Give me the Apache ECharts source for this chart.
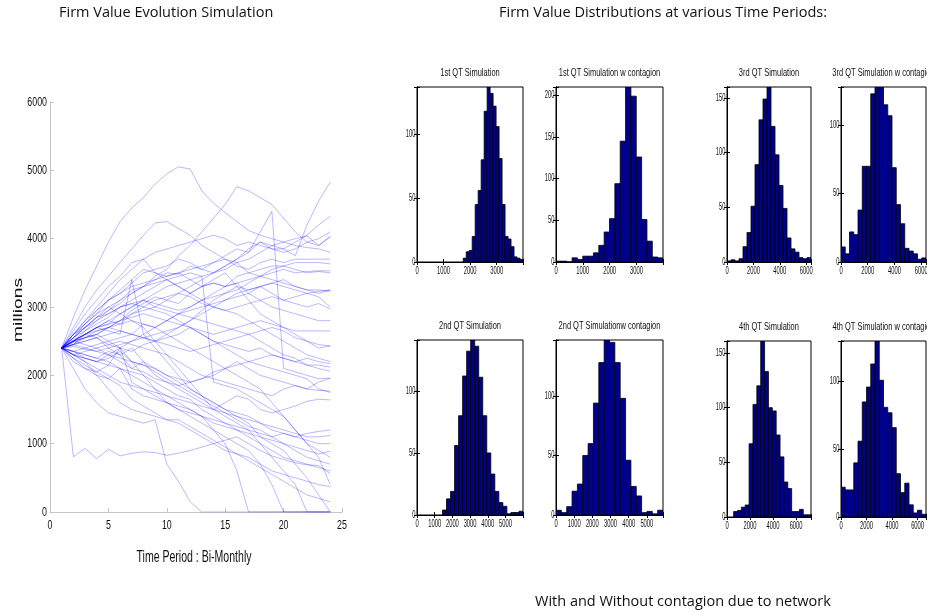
<!DOCTYPE html>
<html>
<head>
<meta charset="utf-8">
<script src="https://cdn.jsdelivr.net/npm/echarts@6/dist/echarts.min.js"></script>
<style>
    html, body { margin: 0; padding: 0; background: #fff; }
    #container { width: 927px; height: 616px; }
</style>
</head>
<body>
<div id="container"></div>
<script>
    /**
     * Left panel: simulated firm value paths (millions), one row per path
    */
    const timePeriods = [1, 2, 3, 4, 5, 6, 7, 8, 9, 10, 11, 12, 13, 14, 15, 16, 17, 18, 19, 20, 21, 22, 23, 24];
    const firmPaths = [
        [2400, 2850, 3250, 3600, 3950, 4250, 4450, 4600, 4800, 4950, 5050, 5020, 4700, 4520, 4380, 4250, 4120, 4050, 4000, 3950, 3900, 3870, 3850, 3800],
        [2400, 2550, 2700, 2850, 2950, 3100, 3250, 3300, 3400, 3500, 3480, 3600, 3550, 3650, 3750, 3850, 3800, 3950, 3850, 3850, 3750, 4200, 4550, 4830],
        [2400, 2500, 2650, 2800, 2950, 3050, 3200, 3300, 3450, 3550, 3750, 3900, 4100, 4300, 4500, 4760, 4700, 4600, 4500, 4300, 4100, 3950, 3900, 4030],
        [2400, 2700, 3000, 3250, 3450, 3650, 3850, 4050, 4230, 4250, 4150, 4050, 3900, 3800, 3700, 3650, 3500, 3450, 3400, 3350, 3300, 3250, 3250, 3230],
        [2400, 2450, 2600, 2700, 2800, 2750, 2900, 3000, 3100, 3150, 3200, 3300, 3400, 3500, 3600, 3700, 3800, 4100, 4400, 2100, 2050, 2000, 1950, 1960],
        [2400, 2600, 2750, 2900, 3100, 3200, 3350, 3500, 3550, 3600, 3700, 3650, 3550, 3500, 3600, 3700, 3850, 3950, 3900, 3850, 3950, 4050, 4200, 4330],
        [2400, 2650, 2900, 3100, 3300, 3450, 3650, 3700, 3800, 3850, 3900, 3950, 4000, 4050, 4000, 3900, 3950, 3900, 3850, 3800, 3850, 3950, 4000, 4100],
        [2400, 2500, 2600, 2700, 2750, 2900, 3000, 3100, 3200, 3300, 3350, 3400, 3450, 3500, 3550, 3650, 3700, 3800, 3900, 3950, 4000, 4040, 3900, 4030],
        [2400, 2550, 2750, 2950, 3100, 3250, 3400, 3550, 3500, 3450, 3500, 3550, 3600, 3650, 3700, 3600, 3550, 3650, 3700, 3650, 3700, 3700, 3700, 3700],
        [2400, 2600, 2800, 2950, 3100, 3200, 3300, 3350, 3400, 3450, 3500, 3400, 3300, 3350, 3300, 3450, 3500, 3550, 3600, 3600, 3650, 3650, 3650, 3630],
        [2400, 2450, 2550, 2600, 2700, 2800, 2950, 3050, 3150, 3100, 3050, 3200, 3300, 3350, 3300, 3350, 3400, 3450, 3500, 3550, 3500, 3520, 3530, 3530],
        [2400, 2500, 2550, 2650, 2700, 2650, 2600, 2750, 2700, 2800, 2900, 3000, 3100, 3150, 3200, 3250, 3350, 3450, 3550, 3600, 3550, 3500, 3520, 3500],
        [2400, 2350, 2400, 2450, 2500, 2550, 2600, 2550, 2500, 2600, 2700, 2800, 2950, 3100, 3200, 3300, 3250, 3300, 3200, 3100, 3150, 3200, 3230, 3250],
        [2400, 2600, 2700, 2850, 2900, 3000, 3050, 3100, 3000, 3100, 3200, 3150, 3050, 3000, 2950, 3000, 3050, 3100, 3150, 3100, 3050, 3000, 3050, 2970],
        [2400, 2500, 2600, 2700, 2800, 2900, 3000, 3100, 3050, 3000, 2950, 3000, 3100, 3200, 3300, 3350, 3200, 3100, 3000, 2950, 2900, 2850, 2800, 2800],
        [2400, 2300, 2250, 2200, 2300, 2400, 2350, 2450, 2500, 2550, 2600, 2700, 2650, 2600, 2650, 2700, 2750, 2800, 2750, 2700, 2650, 2650, 2650, 2650],
        [2400, 2450, 2500, 2550, 2600, 2650, 2600, 2550, 2500, 2450, 2400, 2350, 2400, 2450, 2500, 2550, 2600, 2650, 2700, 2650, 2550, 2500, 2450, 2430],
        [2400, 2550, 2650, 2750, 2850, 3000, 3050, 3000, 2950, 2900, 2800, 2700, 2600, 2500, 2450, 2400, 2350, 2400, 2300, 2250, 2200, 2250, 2200, 2170],
        [2400, 2300, 2250, 2200, 2250, 2350, 2200, 2150, 2100, 2000, 1950, 1900, 1950, 2000, 2100, 2150, 2200, 2250, 2300, 2250, 2200, 2150, 2150, 2120],
        [2400, 2500, 2600, 2700, 2750, 2800, 2900, 2950, 3000, 2950, 2900, 2850, 2800, 2750, 2700, 2650, 2600, 2500, 2400, 2300, 2250, 2150, 2100, 2060],
        [2400, 2350, 2300, 2250, 2350, 2300, 2100, 2050, 1950, 1900, 1850, 1900, 1950, 2050, 2100, 2200, 2100, 2000, 1950, 1900, 1850, 1800, 1900, 1960],
        [2400, 2500, 2450, 2400, 2450, 2500, 2450, 2400, 2350, 2300, 2200, 2100, 2000, 1950, 1900, 1850, 1800, 1750, 1700, 1800, 1850, 1800, 1780, 1770],
        [2400, 2200, 2100, 2050, 2150, 2400, 1900, 1800, 1750, 1700, 1650, 1600, 1550, 1500, 1600, 1700, 1650, 1500, 1450, 1500, 1550, 1620, 1650, 1640],
        [2400, 2250, 2100, 2000, 1950, 2100, 1800, 1700, 1650, 1600, 1500, 1450, 1400, 1350, 1300, 1250, 1200, 1150, 1100, 1150, 1100, 1150, 1180, 1200],
        [2400, 2500, 2600, 2550, 2400, 2300, 2400, 2200, 2000, 1900, 1800, 1700, 1600, 1500, 1450, 1400, 1350, 1300, 1250, 1200, 1150, 1100, 1100, 1120],
        [2400, 2300, 2200, 2100, 2000, 1900, 1850, 1800, 1700, 1600, 1550, 1500, 1400, 1300, 1250, 1200, 1150, 1100, 1050, 1000, 950, 900, 850, 890],
        [2400, 2450, 2400, 2350, 2300, 2250, 2200, 2150, 2050, 1950, 1850, 1750, 1650, 1550, 1450, 1350, 1250, 1200, 1100, 1000, 900, 800, 750, 700],
        [2400, 810, 930, 780, 920, 820, 860, 880, 870, 830, 860, 900, 950, 1000, 1050, 1100, 1000, 900, 820, 770, 720, 690, 680, 560],
        [2400, 2300, 2200, 2000, 1800, 1600, 1500, 1450, 1400, 1350, 1300, 1200, 1100, 1000, 900, 850, 800, 700, 600, 550, 500, 450, 400, 370],
        [2400, 2250, 2150, 2050, 1950, 1850, 1650, 1550, 1450, 1350, 1350, 1250, 1150, 1050, 950, 850, 750, 650, 550, 450, 350, 250, 200, 150],
        [2400, 2100, 1800, 1600, 1450, 1400, 1350, 1300, 1350, 700, 450, 150, 0, 0, 0, 0, 0, 0, 0, 0, 0, 0, 0, 0],
        [2400, 2350, 2300, 2250, 2200, 2100, 2000, 1900, 1800, 1700, 1600, 1500, 1400, 1200, 1000, 600, 0, 0, 0, 0, 0, 0, 0, 0],
        [2400, 2500, 2550, 2600, 2500, 2400, 2200, 2000, 1800, 1600, 1500, 1400, 1300, 1200, 1100, 1000, 900, 700, 400, 0, 0, 0, 0, 0],
        [2400, 2600, 2750, 2900, 3000, 2900, 2800, 2700, 2500, 2300, 2100, 1900, 1700, 1500, 1400, 1300, 1200, 1000, 800, 600, 400, 0, 0, 0],
        [2400, 2300, 2350, 2400, 2300, 2200, 2100, 2200, 2100, 2000, 1900, 1800, 1700, 1600, 1500, 1400, 1300, 1100, 1000, 900, 700, 500, 250, 0],
        [2400, 2500, 2600, 2700, 2650, 2600, 3400, 2600, 2400, 2200, 2000, 1800, 1700, 1600, 1500, 1450, 1400, 1300, 1200, 1150, 1100, 1050, 1000, 1000],
        [2400, 2600, 2800, 3000, 3200, 3400, 3550, 3700, 3500, 3400, 3300, 3200, 3100, 3000, 2950, 2900, 2800, 2700, 2600, 2500, 2400, 2300, 2250, 2200],
        [2400, 2550, 2700, 2850, 3000, 3100, 3200, 3300, 3350, 3400, 3450, 3500, 3450, 1900, 1850, 1800, 1700, 1600, 1500, 1400, 1200, 1000, 900, 800],
        [2400, 2450, 2500, 2550, 2450, 2400, 2500, 2600, 2700, 2800, 2900, 2950, 3000, 3050, 3100, 3150, 3200, 3300, 3350, 3400, 3300, 3250, 3200, 3250],
        [2400, 2480, 2550, 2600, 2700, 2800, 2850, 2900, 2850, 2800, 2750, 2700, 2600, 2500, 2400, 2300, 2200, 2150, 2100, 2050, 2000, 1950, 1800, 1750],
        [2400, 2420, 2380, 2350, 2400, 2450, 2500, 2550, 2600, 2650, 2700, 2800, 2900, 3000, 3100, 3200, 3250, 3300, 3350, 3300, 3250, 3200, 3150, 3000],
        [2400, 2350, 2250, 2200, 2150, 2100, 2050, 2000, 1900, 1800, 1700, 1650, 1500, 1400, 1300, 1200, 1100, 1000, 900, 800, 750, 700, 650, 600],
        [2400, 2520, 2600, 2650, 2700, 2750, 2800, 2750, 2700, 2600, 2500, 2400, 2300, 2200, 2100, 2000, 1900, 1800, 1600, 1400, 1200, 1000, 800, 400],
        [2400, 2550, 2700, 2800, 2900, 3000, 3100, 3200, 3300, 3400, 3300, 3200, 3300, 3400, 3500, 3300, 3100, 2900, 2800, 2700, 2600, 2500, 2400, 2430]
    ];
    const pathTicksX = [0, 5, 10, 15, 20, 25];
    const pathTicksY = [0, 1000, 2000, 3000, 4000, 5000, 6000];

    /**
     * Histogram panels, in the order: top row left to right, then bottom row
    */
    const histTitles = [
        "1st QT Simulation", "1st QT Simulation w contagion", "3rd QT Simulation", "3rd QT Simulation w contagion",
        "2nd QT Simulation", "2nd QT Simulationw contagion", "4th QT Simulation", "4th QT Simulation w contagion"
    ];
    const q1Counts = [3, 8, 9, 20, 45, 56, 80, 118, 137, 132, 122, 106, 81, 45, 20, 18, 12, 4, 3, 2];
    const q1ContagionCounts = [1, 1, 0, 5, 3, 7, 7, 11, 20, 36, 52, 94, 145, 210, 199, 126, 51, 25, 6, 5];
    const q3Counts = [1, 2, 1, 3, 14, 27, 51, 89, 130, 149, 160, 124, 98, 70, 49, 22, 12, 9, 4, 3, 4];
    const q3ContagionCounts = [11, 6, 22, 20, 38, 70, 70, 123, 128, 128, 115, 107, 69, 42, 28, 10, 8, 6, 2, 3];
    const q2Counts = [4, 13, 19, 56, 80, 112, 132, 141, 136, 111, 80, 50, 33, 19, 10, 7, 1, 2, 2, 3];
    const q2ContagionCounts = [4, 2, 7, 20, 26, 50, 60, 94, 128, 147, 145, 128, 98, 46, 24, 16, 2, 3, 1, 4];
    const q4Counts = [5, 6, 9, 11, 67, 103, 120, 161, 133, 100, 97, 75, 55, 32, 26, 5, 5, 7, 2, 2];
    const q4ContagionCounts = [22, 20, 20, 40, 56, 85, 96, 113, 130, 101, 81, 77, 66, 32, 18, 25, 9, 3, 5, 2];
    const histCounts = [q1Counts, q1ContagionCounts, q3Counts, q3ContagionCounts, q2Counts, q2ContagionCounts, q4Counts, q4ContagionCounts];
    const histBinStart = [1740, 0, 0, 0, 1440, 0, 576, 0];
    const histBinWidth = [112.5, 199.5, 303, 318, 227.5, 294.5, 336, 333];
    const histXMax = [3990, 3990, 6363, 6360, 5990, 5890, 7296, 6660];
    const histYMax = [137, 210, 160, 128, 141, 147, 161, 130];
    const histXStep = [1000, 1000, 2000, 2000, 1000, 1000, 2000, 2000];
    const histYStep = 50;

    const SANS = "'Liberation Sans', Arial, sans-serif";
    const CAPTION = "'Open Sans', 'Noto Sans', sans-serif";

    // [left, top, width, height] of each histogram frame
    const histBoxes = [
        [417, 87, 106, 175], [556, 87, 107, 175], [727, 87, 84, 175], [841, 87, 85, 175],
        [417, 340, 106, 175], [556, 340, 107, 175], [727, 341, 84, 176], [841, 341, 85, 176]
    ];

    /**
     * Condensed text: the source figure squeezes every label horizontally,
     * so labels are drawn as graphic texts with a horizontal scale.
    */
    function squeezed(x, y, text, size, scaleX, align) {
        return {
            type: "text", x: x, y: y, scaleX: scaleX, silent: true,
            style: { text: text, font: size + "px " + SANS, fill: "#111", textAlign: align, textVerticalAlign: "middle" }
        };
    }

    function histRect(params, api) {
        const p0 = api.coord([api.value(0), api.value(2)]);
        const p1 = api.coord([api.value(1), 0]);
        return {
            type: "rect",
            shape: { x: p0[0], y: p0[1], width: p1[0] - p0[0], height: p1[1] - p0[1] },
            style: { fill: "#00008F", stroke: "#000", lineWidth: 0.8 }
        };
    }

    const grey = { color: "#c4c4c4" };
    const grids = [{ left: 50, top: 102, width: 292, height: 410, outerBoundsMode: "none", containLabel: false }];
    const xAxes = [{
        gridIndex: 0, type: "value", min: 0, max: 25, interval: 5,
        axisLine: { lineStyle: grey },
        axisTick: { inside: true, length: 4, lineStyle: grey },
        axisLabel: { show: false },
        splitLine: { show: false }
    }];
    const yAxes = [{
        gridIndex: 0, type: "value", min: 0, max: 6000, interval: 1000,
        axisLine: { show: true, lineStyle: grey },
        axisTick: { show: true, inside: true, length: 4, lineStyle: grey },
        axisLabel: { show: false },
        splitLine: { show: false }
    }];
    const series = firmPaths.map(function (path) {
        return {
            type: "line", xAxisIndex: 0, yAxisIndex: 0,
            data: timePeriods.map(function (t, k) { return [t, path[k]]; }),
            showSymbol: false, silent: true,
            lineStyle: { width: 1, color: "rgba(0,0,255,0.28)" }
        };
    });

    histBoxes.forEach(function (box, i) {
        const g = i + 1;
        grids.push({
            left: box[0], top: box[1], width: box[2], height: box[3],
            show: true, borderColor: "#000", borderWidth: 1, backgroundColor: "#fff",
            outerBoundsMode: "none", containLabel: false
        });
        const tick = { show: true, inside: true, length: 3, lineStyle: { color: "#000" } };
        const xBase = { gridIndex: g, type: "value", min: 0, max: histXMax[i], interval: histXStep[i], splitLine: { show: false }, axisLine: { lineStyle: { color: "#000" } }, axisTick: tick, axisLabel: { show: false } };
        const yBase = { gridIndex: g, type: "value", min: 0, max: histYMax[i], interval: histYStep, splitLine: { show: false }, axisLine: { show: true, lineStyle: { color: "#000" } }, axisTick: tick, axisLabel: { show: false } };
        xAxes.push(Object.assign({ position: "bottom" }, xBase));
        xAxes.push(Object.assign({ position: "top" }, xBase));
        yAxes.push(Object.assign({ position: "left" }, yBase));
        yAxes.push(Object.assign({ position: "right" }, yBase));

        const start = histBinStart[i], w = histBinWidth[i];
        series.push({
            type: "custom", xAxisIndex: 2 * i + 1, yAxisIndex: 2 * i + 1,
            clip: true, silent: true,
            encode: { x: [0, 1], y: 2 },
            data: histCounts[i].map(function (c, k) { return [start + k * w, start + (k + 1) * w, c]; }),
            renderItem: histRect
        });
    });

    const chart = echarts.init(document.getElementById("container"), null, { renderer: "canvas" });
    chart.setOption({
        animation: false,
        backgroundColor: "#fff",
        grid: grids,
        xAxis: xAxes,
        yAxis: yAxes,
        series: series
    });

    // tick labels and captions, placed through the axes' own scales
    const graphics = [
        { type: "text", x: 59, y: 13, style: { text: "Firm Value Evolution Simulation", font: "14.5px " + CAPTION, fill: "#111", textVerticalAlign: "middle" } },
        { type: "text", x: 499, y: 13, style: { text: "Firm Value Distributions at various Time Periods:", font: "14.5px " + CAPTION, fill: "#111", textVerticalAlign: "middle" } },
        { type: "text", x: 535, y: 602, style: { text: "With and Without contagion due to network", font: "14.5px " + CAPTION, fill: "#111", textVerticalAlign: "middle" } },
        squeezed(194, 557, "Time Period : Bi-Monthly", 17, 0.62, "center"),
        {
            type: "text", x: 19, y: 310, rotation: Math.PI / 2, scaleX: 1.6, silent: true,
            style: { text: "millions", font: "12px " + SANS, fill: "#111", textAlign: "center", textVerticalAlign: "middle" }
        }
    ];
    pathTicksY.forEach(function (v) {
        graphics.push(squeezed(47, chart.convertToPixel({ yAxisIndex: 0 }, v), String(v), 13, 0.68, "right"));
    });
    pathTicksX.forEach(function (v) {
        graphics.push(squeezed(chart.convertToPixel({ xAxisIndex: 0 }, v), 525, String(v), 13, 0.68, "center"));
    });
    histBoxes.forEach(function (box, i) {
        const ax = 2 * i + 1;
        for (let v = 0; v <= histXMax[i]; v += histXStep[i]) {
            graphics.push(squeezed(chart.convertToPixel({ xAxisIndex: ax }, v), box[1] + box[3] + 9.5, String(v), 10, 0.58, "center"));
        }
        for (let v = 0; v <= histYMax[i]; v += histYStep) {
            graphics.push(squeezed(box[0] - 1.5, chart.convertToPixel({ yAxisIndex: ax }, v), String(v), 10, 0.58, "right"));
        }
        graphics.push(squeezed(box[0] + box[2] / 2, box[1] - 14, histTitles[i], 11, 0.68, "center"));
    });
    chart.setOption({ graphic: graphics });
</script>
</body>
</html>
